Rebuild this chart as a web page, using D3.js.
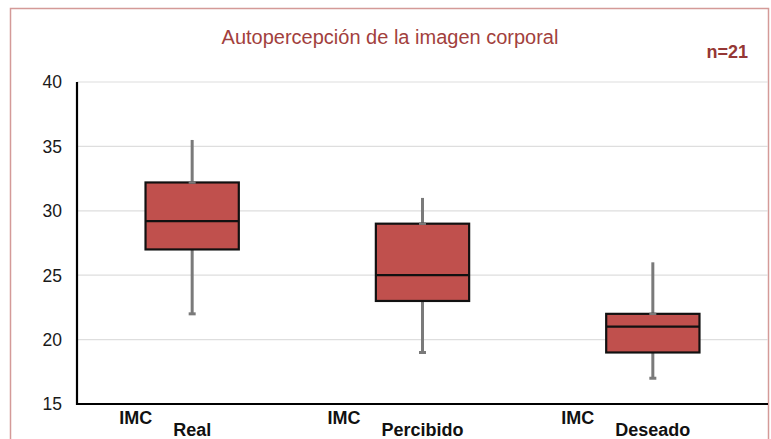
<!DOCTYPE html>
<html>
<head>
<meta charset="utf-8">
<script src="https://cdn.jsdelivr.net/npm/d3@7"></script>
<style>
  body { margin: 0; background: #fff; }
  svg { display: block; font-family: 'Liberation Sans', Arial, sans-serif; }
</style>
</head>
<body>
<svg id="chart" width="771" height="439"></svg>
<script>
// box plot values
const categories = ['Real', 'Percibido', 'Deseado'];
const mins    = [22, 19, 17];
const q1s     = [27, 23, 19];
const medians = [29.2, 25, 21];
const q3s     = [32.2, 29, 22];
const maxs    = [35.5, 31, 26];
const yTicks  = [15, 20, 25, 30, 35, 40];

const boxes = categories.map((c, i) => ({
  name: c, min: mins[i], q1: q1s[i], med: medians[i], q3: q3s[i], max: maxs[i]
}));

const svg = d3.select('#chart');
const margin = { top: 82, right: 3, bottom: 35, left: 77 };
const width = 771, height = 439;

// outer frame
svg.append('rect')
  .attr('x', 10.5).attr('y', 8.5)
  .attr('width', 758).attr('height', 440)
  .attr('fill', '#fff')
  .attr('stroke', '#d49a98')
  .attr('stroke-width', 1.5);

const x = d3.scaleBand()
  .domain(categories)
  .range([margin.left, width - margin.right])
  .paddingInner(0).paddingOuter(0);

const y = d3.scaleLinear()
  .domain([15, 40])
  .range([height - margin.bottom, margin.top]);

// gridlines
svg.append('g')
  .selectAll('line')
  .data(yTicks.filter(t => t > 15))
  .join('line')
    .attr('x1', margin.left).attr('x2', width - margin.right)
    .attr('y1', d => y(d)).attr('y2', d => y(d))
    .attr('stroke', '#dedede')
    .attr('stroke-width', 1.2);

// y tick labels
svg.append('g')
  .selectAll('text')
  .data(yTicks)
  .join('text')
    .attr('x', 62)
    .attr('y', d => y(d))
    .attr('dy', '0.36em')
    .attr('text-anchor', 'end')
    .attr('font-size', 17.5)
    .attr('fill', '#1a1a1a')
    .text(d => d);

const boxW = x.bandwidth() * 0.405;
const capW = 7;

const g = svg.append('g')
  .selectAll('g')
  .data(boxes)
  .join('g')
    .attr('transform', d => `translate(${x(d.name) + x.bandwidth() / 2},0)`);

// whiskers
g.append('line')
  .attr('x1', 0).attr('x2', 0)
  .attr('y1', d => y(d.q3)).attr('y2', d => y(d.max))
  .attr('stroke', '#7a7a7a').attr('stroke-width', 3);
g.append('line')
  .attr('x1', 0).attr('x2', 0)
  .attr('y1', d => y(d.q1)).attr('y2', d => y(d.min))
  .attr('stroke', '#7a7a7a').attr('stroke-width', 3);
// caps at the ends
g.append('line')
  .attr('x1', -capW / 2).attr('x2', capW / 2)
  .attr('y1', d => y(d.min)).attr('y2', d => y(d.min))
  .attr('stroke', '#7a7a7a').attr('stroke-width', 3);

// box
g.append('rect')
  .attr('x', -boxW / 2)
  .attr('width', boxW)
  .attr('y', d => y(d.q3))
  .attr('height', d => y(d.q1) - y(d.q3))
  .attr('fill', '#c0504d')
  .attr('stroke', '#111')
  .attr('stroke-width', 2.2);

// little grey cap on top of box (excel error bar)
g.append('line')
  .attr('x1', -capW / 2).attr('x2', capW / 2)
  .attr('y1', d => y(d.q3)).attr('y2', d => y(d.q3))
  .attr('stroke', '#7a7a7a').attr('stroke-width', 2.5);

// median
g.append('line')
  .attr('x1', -boxW / 2).attr('x2', boxW / 2)
  .attr('y1', d => y(d.med)).attr('y2', d => y(d.med))
  .attr('stroke', '#111').attr('stroke-width', 2.2);

// axes lines
svg.append('line')
  .attr('x1', margin.left).attr('x2', margin.left)
  .attr('y1', y(40)).attr('y2', y(15) + 1)
  .attr('stroke', '#000').attr('stroke-width', 2.2);
svg.append('line')
  .attr('x1', margin.left - 1).attr('x2', width - margin.right)
  .attr('y1', y(15)).attr('y2', y(15))
  .attr('stroke', '#000').attr('stroke-width', 2.2);

// category labels: "IMC" raised and shifted left, second word below
const lab = svg.append('g')
  .selectAll('g')
  .data(boxes)
  .join('g')
    .attr('transform', d => `translate(${x(d.name) + x.bandwidth() / 2},0)`);

lab.append('text')
  .attr('class', 'word')
  .attr('y', 436)
  .attr('text-anchor', 'middle')
  .attr('font-size', 18)
  .attr('font-weight', 'bold')
  .attr('fill', '#111')
  .text(d => d.name);

lab.each(function () {
  const w = d3.select(this).select('text.word').node().getComputedTextLength();
  d3.select(this).append('text')
    .attr('x', -w / 2 - 21)
    .attr('y', 424)
    .attr('text-anchor', 'end')
    .attr('font-size', 18)
    .attr('font-weight', 'bold')
    .attr('fill', '#111')
    .text('IMC');
});

// title and n
svg.append('text')
  .attr('x', 390)
  .attr('y', 44)
  .attr('text-anchor', 'middle')
  .attr('font-size', 20)
  .attr('fill', '#a23f3d')
  .text('Autopercepción de la imagen corporal');

svg.append('text')
  .attr('x', 748)
  .attr('y', 58)
  .attr('text-anchor', 'end')
  .attr('font-size', 18)
  .attr('font-weight', 'bold')
  .attr('fill', '#953735')
  .text('n=21');
</script>
</body>
</html>
